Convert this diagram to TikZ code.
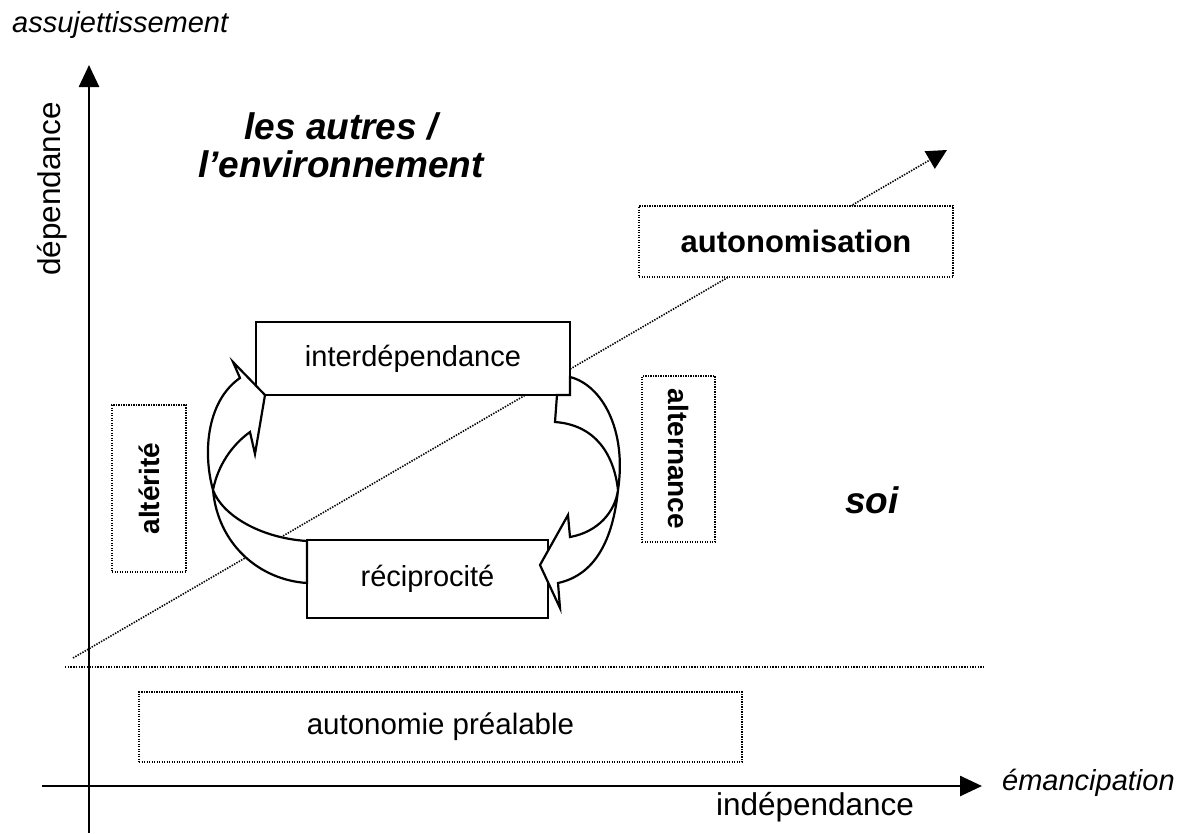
\documentclass[tikz,border=0pt]{standalone}
\usepackage{fontspec}
\setmainfont{Liberation Sans}
\usetikzlibrary{arrows.meta}
\begin{document}
\begin{tikzpicture}[x=1pt,y=-1pt,
  solidbox/.style={draw, line width=2.2pt, fill=white, inner sep=0pt, font=\fontsize{29}{34}\selectfont},
  dotbox/.style={draw, line width=1.6pt, dash pattern=on 1.4pt off 1.1pt, fill=white, inner sep=0pt},
  dotline/.style={line width=1.6pt, dash pattern=on 1.4pt off 1.3pt},
  axisline/.style={line width=2.6pt, -{Triangle[length=22pt,width=20pt]}},
  bentarrow/.style={draw, line width=2.2pt, fill=white, line join=miter},
  lbl/.style={inner sep=0pt, font=\fontsize{31.5}{36}\selectfont},
  ilbl/.style={inner sep=0pt, font=\fontsize{29}{35}\selectfont\itshape},
  bilbl/.style={inner sep=0pt, align=center, font=\fontsize{37}{38}\selectfont\bfseries\itshape},
  blbl/.style={inner sep=0pt, font=\fontsize{28}{34}\selectfont\bfseries}]
\useasboundingbox (0,0) rectangle (1189,833);
\fill[white] (0,0) rectangle (1189,833);

% axes
\coordinate (ybot) at (89,833);
\coordinate (ytop) at (89,65);
\coordinate (xleft) at (42,786);
\coordinate (xright) at (982,786);
\draw[axisline] (ybot) -- (ytop);
\draw[axisline] (xleft) -- (xright);

% dotted horizontal separator
\coordinate (hl) at (65,667);
\coordinate (hr) at (985,667);
\draw[dotline] (hl) -- (hr);

% diagonal dotted arrow
\coordinate (dstart) at (73,658);
\coordinate (dend) at (947,150);
\draw[dotline, -{Triangle[length=20pt,width=20pt]}] (dstart) -- (dend);

% axis labels
\node[lbl, rotate=90] (dep) at (52,189) {dépendance};
\node[ilbl, anchor=west] (assu) at (12,25) {assujettissement};
\node[lbl] (indep) at (815,807) {indépendance};
\node[ilbl, anchor=west] (eman) at (1002,783) {émancipation};

% region labels
\node[bilbl] (autres) at (341,145) {les autres /\\l’environnement};
\node[bilbl] (soi) at (872,500) {soi};

% dotted boxes
\node[dotbox, minimum width=314pt, minimum height=71pt, font=\fontsize{31}{36}\selectfont\bfseries] (autonom) at (796,241.5) {autonomisation};
\node[dotbox, minimum width=74pt, minimum height=167pt] (alt) at (149,488.5) {};
\node[blbl, rotate=90] at (alt.center) {altérité};
\node[dotbox, minimum width=73pt, minimum height=166pt] (altern) at (678.5,459) {};
\node[blbl, rotate=-90] at (altern.center) {alternance};
\node[dotbox, minimum width=603pt, minimum height=70pt, font=\fontsize{29.5}{34}\selectfont] (prea) at (440.5,727) {autonomie préalable};

% solid boxes
\node[solidbox, minimum width=314pt, minimum height=73pt] (inter) at (413,358.5) {interdépendance};
\node[solidbox, minimum width=241pt, minimum height=78pt] (reci) at (427.5,579) {réciprocité};

% curved block arrows
\draw[bentarrow] (570,377) .. controls (602,385) and (627,430) .. (618,490)
  .. controls (613,540) and (595,575) .. (558,583)
  -- (560,608) -- (540,565) -- (568,515) -- (570,537)
  .. controls (598,532) and (615,512) .. (618,490)
  .. controls (614,455) and (596,425) .. (555,422)
  -- (557,395) -- (570,395) -- cycle;
\draw[bentarrow] (307,583) .. controls (260,580) and (218,545) .. (213,490)
  .. controls (202,450) and (208,400) .. (240,378)
  -- (233,362) -- (265,395) -- (255,454) -- (250,432)
  .. controls (232,445) and (218,465) .. (213,490)
  .. controls (222,515) and (260,538) .. (307,541)
  -- cycle;
\end{tikzpicture}
\end{document}
